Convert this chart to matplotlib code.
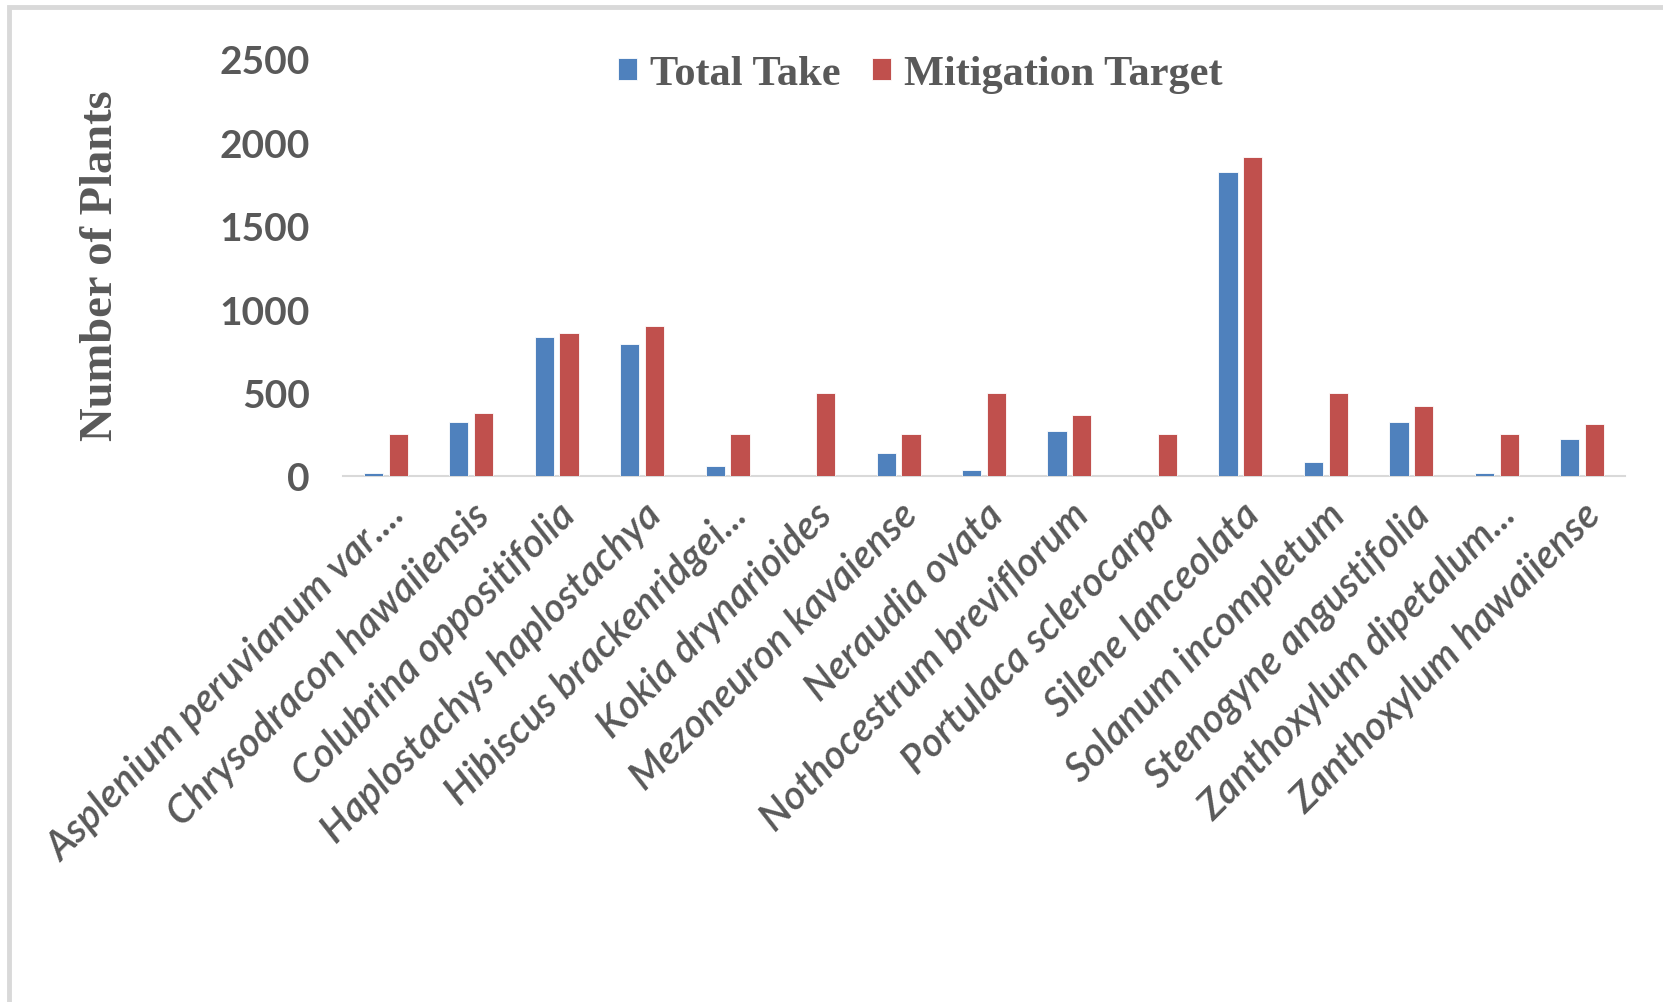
import matplotlib
matplotlib.use("Agg")
import matplotlib.pyplot as plt
import matplotlib.patches as mpatches
import numpy as np

species = [
    "Asplenium peruvianum var....",
    "Chrysodracon hawaiiensis",
    "Colubrina oppositifolia",
    "Haplostachys haplostachya",
    "Hibiscus brackenridgei...",
    "Kokia drynarioides",
    "Mezoneuron kavaiense",
    "Neraudia ovata",
    "Nothocestrum breviflorum",
    "Portulaca sclerocarpa",
    "Silene lanceolata",
    "Solanum incompletum",
    "Stenogyne angustifolia",
    "Zanthoxylum dipetalum...",
    "Zanthoxylum hawaiiense",
]
total_take = [20, 325, 832, 792, 58, 0, 140, 34, 272, 0, 1820, 86, 325, 20, 220]
mitigation_target = [250, 375, 860, 900, 250, 500, 250, 500, 366, 250, 1910, 500, 420, 250, 312]
yticks = [0, 500, 1000, 1500, 2000, 2500]

W, H = 1663, 1003
fig = plt.figure(figsize=(W / 100, H / 100), dpi=100)

# outer chart border (top and left visible)
fig.patches.append(mpatches.Rectangle((9 / W, -0.01), 1.5, 1 - 8 / H + 0.01, transform=fig.transFigure,
                                      fill=False, edgecolor="#D9D9D9", linewidth=3.5, zorder=0))

ax = fig.add_axes([343 / W, 1 - 477 / H, (1625 - 343) / W, (477 - 60) / H])

x = np.arange(len(species))
bw = 0.225
off = 0.145
blue = "#4F81BD"
red = "#C0504D"
b1 = ax.bar(x - off, total_take, bw, color=blue, edgecolor="white", linewidth=0.6, label="Total Take", zorder=3)
b2 = ax.bar(x + off, mitigation_target, bw, color=red, edgecolor="white", linewidth=0.6, label="Mitigation Target", zorder=3)

ax.set_xlim(-0.5, len(species) - 0.5)
ax.set_ylim(0, 2500)
ax.set_yticks(yticks)
ax.set_yticklabels([str(v) for v in yticks], fontfamily="Lato", fontweight="bold", fontsize=28, color="#595959")
ax.tick_params(axis="y", length=0, pad=24)

ax.set_xticks(x)
ax.set_xticklabels(species, rotation=45, ha="right", va="top", rotation_mode="anchor",
                   fontfamily="Lato", fontstyle="italic", fontweight="semibold", fontsize=29, color="#595959")
ax.tick_params(axis="x", length=0, pad=14)

for s in ["top", "right", "left"]:
    ax.spines[s].set_visible(False)
ax.spines["bottom"].set_color("#D9D9D9")
ax.spines["bottom"].set_linewidth(1.5)
ax.set_facecolor("none")

fig.text(101 / W, 1 - 266 / H, "Number of Plants", rotation=90, ha="center", va="center",
         fontfamily="Liberation Serif", fontweight="bold", fontsize=33.5, color="#595959")

leg = fig.legend(handles=[b1, b2], labels=["Total Take", "Mitigation Target"], ncol=2,
                 loc="center left", bbox_to_anchor=(618 / W, 1 - 75 / H), bbox_transform=fig.transFigure,
                 frameon=False, borderpad=0, borderaxespad=0, handlelength=0.45, handleheight=0.45,
                 handletextpad=0.3, columnspacing=0.75,
                 prop={"family": "Liberation Serif", "weight": "bold", "size": 30.5})
for t in leg.get_texts():
    t.set_color("#595959")

fig.savefig("out.png", dpi=100, facecolor="white")
